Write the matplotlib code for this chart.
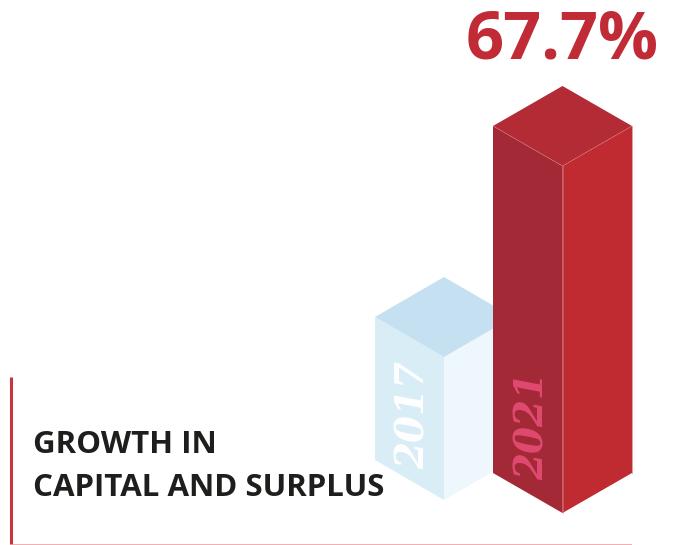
import matplotlib
matplotlib.use('Agg')
import matplotlib.pyplot as plt
from matplotlib.patches import Polygon

years = ['2017', '2021']
bar_heights = [143, 347]  # front edge length of each block
headline = '67.7%'
title_lines = ['GROWTH IN', 'CAPITAL AND SURPLUS']

plt.rcParams['font.family'] = ['Open Sans', 'DejaVu Sans']

fig = plt.figure(figsize=(6.73, 5.45), dpi=100)
ax = fig.add_axes([0, 0, 1, 1])
ax.set_xlim(0, 673)
ax.set_ylim(545, 0)
ax.axis('off')


def draw_block(x_center, y_base, height, half_w, rise, cols, edge=None):
    # y_base is the lowest corner of the front edge, faces built upwards
    top = y_base - height
    left = [(x_center - half_w, top + rise), (x_center, top + 2 * rise),
            (x_center, y_base), (x_center - half_w, y_base - rise)]
    right = [(x_center, top + 2 * rise), (x_center + half_w, top + rise),
             (x_center + half_w, y_base - rise), (x_center, y_base)]
    lid = [(x_center, top), (x_center + half_w, top + rise),
           (x_center, top + 2 * rise), (x_center - half_w, top + rise)]
    for pts, col in zip([left, right, lid], cols):
        ax.add_patch(Polygon(pts, closed=True, facecolor=col, edgecolor='none'))
    if edge is not None:
        ax.plot([x_center, x_center], [top + 2 * rise, y_base], color=edge, lw=0.4)
        ax.plot([x_center - half_w, x_center, x_center + half_w],
                [top + rise, top + 2 * rise, top + rise], color=edge, lw=0.4)
        ax.plot([x_center + half_w, x_center + half_w], [top + rise, y_base - rise],
                color=edge, lw=0.5)


draw_block(444, 500, bar_heights[0] + 80, 69, 40, ['#D9EDF7', '#EEF7FB', '#C4E0F1'])
draw_block(562.5, 513, bar_heights[1] + 80, 69.5, 40, ['#A32937', '#C02B31', '#B22B35'], edge='#D9737C')

ax.text(414, 415, years[0], rotation=90, color='white', fontsize=28, fontweight='bold',
        fontstyle='italic', family='DejaVu Serif', ha='center', va='center')
ax.text(533, 426, years[1], rotation=90, color='#E04A70', fontsize=28, fontweight='bold',
        fontstyle='italic', family='DejaVu Serif', ha='center', va='center')

ax.text(562, 41, headline, color='#C02B36', fontsize=48, fontweight='bold', ha='center', va='center')
ax.text(33, 445, title_lines[0], color='#1E1E1C', fontsize=22.5, fontweight='bold', ha='left', va='center')
ax.text(33, 488, title_lines[1], color='#1E1E1C', fontsize=22.5, fontweight='bold', ha='left', va='center')

# frame lines bottom left
ax.plot([10.5, 10.5], [377, 545], color='#C8353F', lw=2.2, solid_capstyle='butt')
ax.plot([10, 632], [544.5, 544.5], color='#EFA0A5', lw=1.2, solid_capstyle='butt')

fig.savefig('out.png', dpi=100)
